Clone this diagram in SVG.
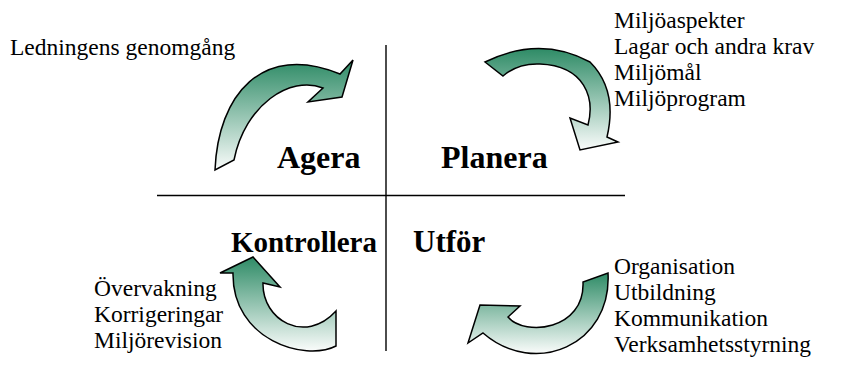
<svg xmlns="http://www.w3.org/2000/svg" width="864" height="371" viewBox="0 0 864 371">
  <defs>
    <linearGradient id="greenFade" x1="0" y1="0" x2="0" y2="1">
      <stop offset="0" stop-color="#2E8B66"/>
      <stop offset="1" stop-color="#FAFCFB"/>
    </linearGradient>
  </defs>
  <style>
    .arrow { stroke: #000; stroke-width: 1.5; stroke-linejoin: miter; }
    .axis { stroke: #000; stroke-width: 1.4; fill: none; }
    .note { font-family: "Liberation Serif", "Times New Roman", serif; font-size: 23.5px; fill: #000; }
    .phase { font-family: "Liberation Serif", "Times New Roman", serif; font-size: 32px; font-weight: bold; fill: #000; }
  </style>

  <rect width="864" height="371" fill="#fff"/>

  <!-- cross dividing the four phases -->
  <g id="axes">
    <line class="axis" x1="157" y1="195.5" x2="625" y2="195.5"/>
    <line class="axis" x1="386" y1="45" x2="386" y2="351"/>
  </g>

  <!-- curved cycle arrows -->
  <g id="connectors">
    <path id="arrow-agera" class="arrow" fill="url(#greenFade)"
      d="M215,170 C218,95 262,42 340,74 L353,60 L342,97 L308,102 L323,88 C290,75 245,105 234,160 Z"/>
    <path id="arrow-planera" class="arrow" fill="url(#greenFade)"
      d="M485,62 Q540,35 590,62 Q618,90 607,137 L618,142 L580,150 L570,118 L588,125 C595,98 585,66 540,64 Q518,63 503,76 Z"/>
    <path id="arrow-kontrollera" class="arrow" fill="url(#greenFade)"
      d="M336,346 C305,362 232,340 233,273 L220,273 L253,257 L280,287 L263,283 C262,320 305,345 336,311 Z"/>
    <path id="arrow-utfor" class="arrow" fill="url(#greenFade)"
      d="M608,273 C612,345 535,378 483,333 L468,343 L480,305 L520,306 L508,317 C525,337 585,330 583,282 Z"/>
  </g>

  <!-- phase labels -->
  <g id="phase-agera"><text class="phase" x="277" y="168">Agera</text></g>
  <g id="phase-planera"><text class="phase" x="441" y="168">Planera</text></g>
  <g id="phase-kontrollera"><text class="phase" x="377" y="252" text-anchor="end" style="font-size:29px">Kontrollera</text></g>
  <g id="phase-utfor"><text class="phase" x="413" y="252" style="font-size:31px">Utför</text></g>

  <!-- activity notes -->
  <g id="notes-agera">
    <text class="note" x="10" y="55">Ledningens genomgång</text>
  </g>
  <g id="notes-planera">
    <text class="note" x="614" y="28">Miljöaspekter</text>
    <text class="note" x="614" y="54">Lagar och andra krav</text>
    <text class="note" x="614" y="80">Miljömål</text>
    <text class="note" x="614" y="106">Miljöprogram</text>
  </g>
  <g id="notes-kontrollera">
    <text class="note" x="94" y="296">Övervakning</text>
    <text class="note" x="94" y="322">Korrigeringar</text>
    <text class="note" x="94" y="348">Miljörevision</text>
  </g>
  <g id="notes-utfor">
    <text class="note" x="614" y="274">Organisation</text>
    <text class="note" x="614" y="300">Utbildning</text>
    <text class="note" x="614" y="326">Kommunikation</text>
    <text class="note" x="614" y="352">Verksamhetsstyrning</text>
  </g>
</svg>
